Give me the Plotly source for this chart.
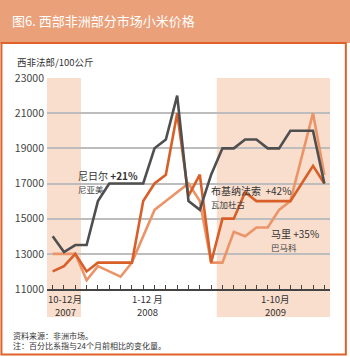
import plotly.graph_objects as go

# months Oct 2007 - Oct 2009
months = ["2007-10", "2007-11", "2007-12",
          "2008-01", "2008-02", "2008-03", "2008-04", "2008-05", "2008-06",
          "2008-07", "2008-08", "2008-09", "2008-10", "2008-11", "2008-12",
          "2009-01", "2009-02", "2009-03", "2009-04", "2009-05", "2009-06",
          "2009-07", "2009-08", "2009-09", "2009-10"]

niamey = [14000, 13100, 13500, 13500, 16000, 17000, 17000, 17000, 17000,
          19000, 19500, 22000, 16000, 15500, 17500,
          19000, 19000, 19500, 19500, 19000, 19000, 20000, 20000, 20000, 17000]
ouaga = [12000, 12300, 13000, 12000, 12500, 12500, 12500, 12500, 16000,
         17000, 17500, 21000, 16300, 17500, 12500,
         15000, 15000, 16500, 16000, 16000, 16000, 16000, 17000, 18000, 17000]
bamako = [13000, 13000, 13000, 11500, 12300, 12000, 11700, 12500, 14000,
          15500, 16000, 16500, 17000, 16000, 12500,
          12500, 14250, 14000, 14500, 14500, 15500, 16000, 18500, 21000, 17500]

period_labels = ["10-12月", "1-12 月", "1-10月"]
period_years = ["2007", "2008", "2009"]
period_centers = [1.1, 8.4, 19.7]
shaded = [(-0.5, 2.5), (14.5, 24.5)]

yticks = [11000, 13000, 15000, 17000, 19000, 21000, 23000]

x = list(range(len(months)))
font = "Noto Sans CJK SC, Noto Sans, sans-serif"

fig = go.Figure()
fig.add_trace(go.Scatter(x=x, y=bamako, mode="lines",
                         line=dict(color="#EB9468", width=2.6)))
fig.add_trace(go.Scatter(x=x, y=ouaga, mode="lines",
                         line=dict(color="#D95F28", width=2.6)))
fig.add_trace(go.Scatter(x=x, y=niamey, mode="lines",
                         line=dict(color="#4F4F4F", width=2.6)))

# shaded periods
for a, b in shaded:
    fig.add_shape(type="rect", xref="x", yref="paper", x0=a, x1=b,
                  y0=-0.133, y1=1, fillcolor="#F9DECD", line_width=0,
                  layer="below")

# title bar and frame
fig.add_shape(type="rect", xref="paper", yref="paper", x0=-0.17, x1=1.08,
              y0=1.166, y1=1.37, fillcolor="#EAA079", line_width=0)
fig.add_shape(type="rect", xref="paper", yref="paper", x0=-0.161, x1=1.056,
              y0=-0.31, y1=1.166, line=dict(color="#E0622A", width=2))

ann = []
ann.append(dict(text="图6. 西部非洲部分市场小米价格", xref="paper", yref="paper",
                x=-0.131, y=1.272, xanchor="left", yanchor="middle",
                font=dict(size=13, color="white")))
ann.append(dict(text="西非法郎/100公斤", xref="paper", yref="paper",
                x=-0.113, y=1.078, xanchor="left", yanchor="middle",
                font=dict(size=9.5, color="#333")))

# series labels: market name + change, city underneath
labels = [("尼日尔 <b>+21%</b>", "尼亚美", 2.1, 17100),
          ("布基纳法索  +42%", "瓦加杜古", 13.85, 16250),
          ("马里 +35%", "巴马科", 19.15, 13820)]
for main, sub, lx, ly in labels:
    txt = main + "<br><span style='font-size:8.5px;color:#444'>" + sub + "</span>"
    ann.append(dict(text=txt, x=lx, y=ly, xanchor="left", yanchor="middle",
                    align="left", font=dict(size=10, color="#333")))

for lab, yr, c in zip(period_labels, period_years, period_centers):
    ann.append(dict(text=lab, x=c, y=-0.046, yref="paper", borderpad=0,
                    xanchor="center", yanchor="middle",
                    font=dict(size=9.5, color="#333")))
    ann.append(dict(text=yr, x=c, y=-0.111, yref="paper", borderpad=0,
                    xanchor="center", yanchor="middle",
                    font=dict(size=9.5, color="#333")))

ann.append(dict(text="资料来源：非洲市场。<br>注：百分比系指与24个月前相比的变化量。",
                xref="paper", yref="paper", align="left",
                x=-0.126, y=-0.244, xanchor="left", yanchor="middle",
                font=dict(size=8, color="#333")))

for a in ann:
    a["showarrow"] = False
fig.update_layout(annotations=ann)

fig.update_xaxes(range=[-0.5, 24.5], tickvals=x, ticktext=[""] * len(x),
                 ticks="inside", ticklen=4, tickcolor="#444", tickwidth=1,
                 showline=True, linecolor="#444", linewidth=1.5,
                 showgrid=False, zeroline=False, fixedrange=True)
fig.update_yaxes(range=[11000, 23000], tickvals=yticks, tickformat="d",
                 tickfont=dict(size=10.5, color="#444"),
                 gridcolor="#BDBDBD", gridwidth=1.5, showline=False,
                 zeroline=False, ticklabelstandoff=2)

fig.update_layout(width=350, height=357, showlegend=False,
                  margin=dict(l=47, r=20, t=78, b=68),
                  paper_bgcolor="white", plot_bgcolor="rgba(0,0,0,0)",
                  font=dict(family=font))

# page body has an 8px default margin; drop it so the figure sits at 0,0
fig.write_html("out.html", config={"displayModeBar": False},
               post_script="document.body.style.margin='0px';")
